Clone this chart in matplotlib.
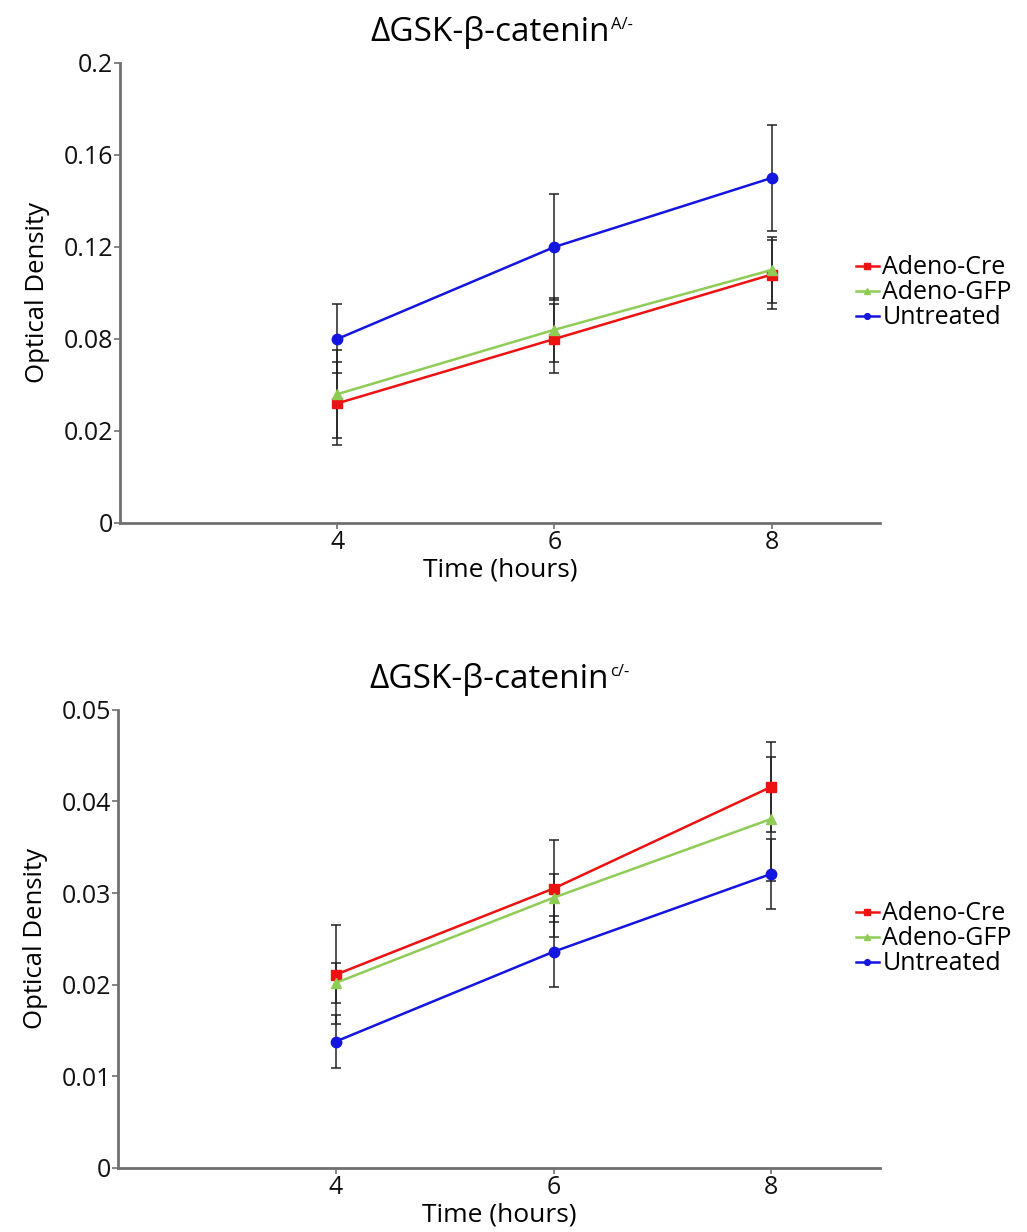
import matplotlib.pyplot as plt

plt.rcParams['font.family'] = ['Open Sans', 'DejaVu Sans']

hours = [4, 6, 8]
series = ['Adeno-Cre', 'Adeno-GFP', 'Untreated']
colors = ['#ee1111', '#8fcc55', '#1515e0']
markers = ['s', '^', 'o']

# top panel (A/-)
top_vals = [[0.052, 0.080, 0.108],
            [0.056, 0.084, 0.110],
            [0.080, 0.120, 0.150]]
top_err = [[0.018, 0.015, 0.015],
           [0.019, 0.014, 0.0145],
           [0.015, 0.023, 0.023]]
top_ticks = [0, 0.04, 0.08, 0.12, 0.16, 0.2]
top_ticklabels = ['0', '0.02', '0.08', '0.12', '0.16', '0.2']

# bottom panel (c/-)
bot_vals = [[0.0211, 0.0305, 0.0416],
            [0.0202, 0.0295, 0.0381],
            [0.0138, 0.0236, 0.0321]]
bot_err = [[0.0054, 0.0053, 0.0049],
           [0.0022, 0.0026, 0.0068],
           [0.0029, 0.0039, 0.0038]]
bot_ticks = [0, 0.01, 0.02, 0.03, 0.04, 0.05]
bot_ticklabels = ['0', '0.01', '0.02', '0.03', '0.04', '0.05']

fig = plt.figure(figsize=(10.27, 12.32), dpi=100)
ax1 = fig.add_axes([0.117, 0.5755, 0.740, 0.3734])
ax2 = fig.add_axes([0.115, 0.052, 0.742, 0.3718])


def draw(ax, vals, errs, ticks, ticklabels, sup):
    for v, e, c, m, name in zip(vals, errs, colors, markers, series):
        ax.errorbar(hours, v, yerr=e, fmt='none', ecolor='#222222',
                    elinewidth=1.1, capsize=3.5, capthick=1.1, zorder=2)
        ax.plot(hours, v, color=c, marker=m, markersize=7.5, linewidth=1.8,
                label=name, zorder=3)
    ax.set_xlim(2, 9)
    ax.set_ylim(ticks[0], ticks[-1])
    ax.set_xticks(hours)
    ax.set_yticks(ticks)
    ax.set_yticklabels(ticklabels)
    for s in ['top', 'right']:
        ax.spines[s].set_visible(False)
    for s in ['left', 'bottom']:
        ax.spines[s].set_color('#707070')
        ax.spines[s].set_linewidth(2)
    ax.tick_params(direction='out', length=4, width=1.2, color='#707070',
                   labelsize=18, labelcolor='#111111', pad=1)
    ax.set_xlabel('Time (hours)', fontsize=19, labelpad=2)
    ax.set_ylabel('Optical Density', fontsize=18.5, labelpad=10)
    t = ax.set_title('\u0394GSK-\u03b2-catenin', fontsize=24, pad=16,
                     x=0.487)
    ax.annotate(sup, xy=(1, 1), xycoords=t, xytext=(1, -1),
                textcoords='offset points', fontsize=12, va='top', ha='left')
    ax.legend(loc='center left', bbox_to_anchor=(0.952, 0.5), frameon=False,
              fontsize=18, handlelength=0.9, handletextpad=0.15,
              labelspacing=0.0, markerscale=0.55, borderpad=0)


draw(ax1, top_vals, top_err, top_ticks, top_ticklabels, 'A/-')
draw(ax2, bot_vals, bot_err, bot_ticks, bot_ticklabels, 'c/-')

fig.savefig('out.png', dpi=100)
